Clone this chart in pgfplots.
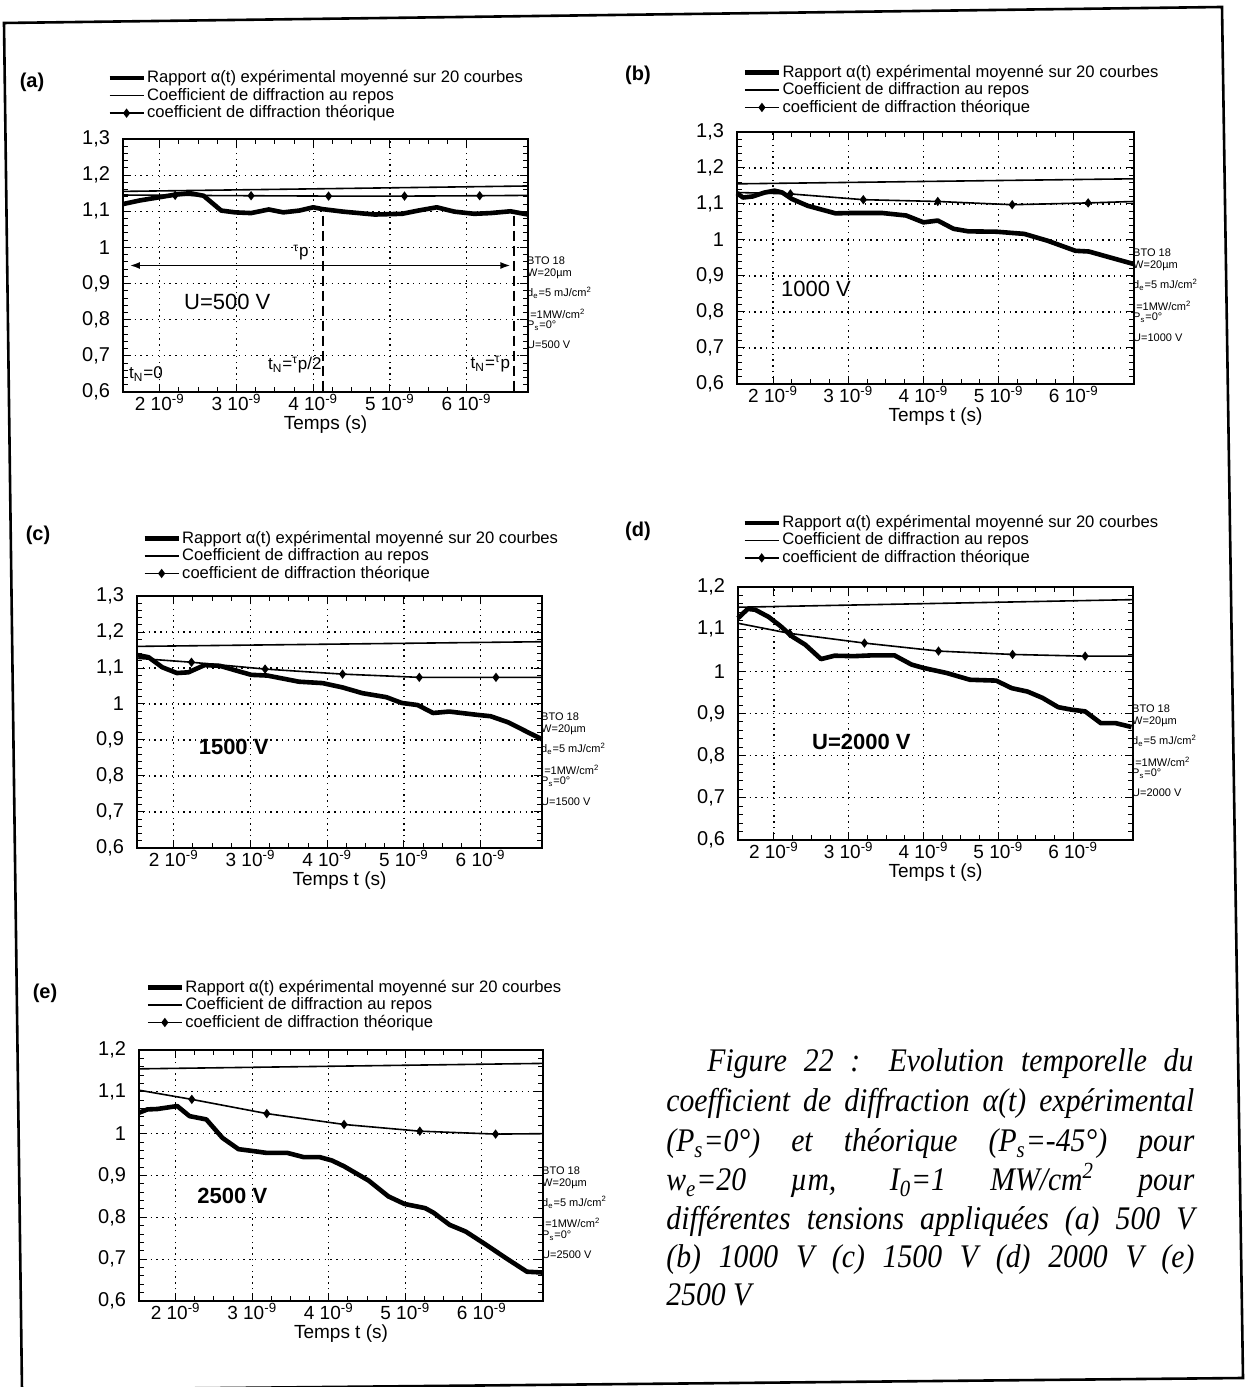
\documentclass[border=0pt]{standalone}
\usepackage{pgfplots}
\pgfplotsset{compat=1.18}
\usetikzlibrary{arrows.meta}
\usepackage{fontspec}
\setmainfont{Liberation Sans}
\newfontfamily\capfont[FakeStretch=0.9]{Liberation Serif}

\pgfplotsset{
  panel/.style={
    scale only axis, clip=false, anchor=south west,
    xmin=1.52, xmax=6.8,
    xtick={2,3,4,5,6},
    xticklabels={2 10\textsuperscript{-9},3 10\textsuperscript{-9},4 10\textsuperscript{-9},5 10\textsuperscript{-9},6 10\textsuperscript{-9}},
    minor x tick num=3, minor y tick num=4,
    grid=major,
    major grid style={black, line width=0.6pt, dash pattern=on 0.7pt off 2.2pt},
    axis line style={line width=1pt},
    tick align=inside,
    major tick length=4pt, minor tick length=2.5pt,
    every tick/.append style={black, line width=0.5pt},
    /pgf/number format/use comma,
    /pgf/number format/fixed,
    /pgf/number format/precision=1,
    /pgf/number format/assume math mode=true,
    yticklabel style={xshift=-3pt, font=\fontsize{10}{11}\selectfont},
    xticklabel style={inner sep=0.8pt, font=\fontsize{9.5}{10}\selectfont},
    xlabel style={at={(axis description cs:0.5,-0.13)}, anchor=center,
      font=\fontsize{9.5}{11}\selectfont},
    legend style={draw=none, fill=none, anchor=north west, inner sep=0pt,
      row sep=0pt, font=\fontsize{8.3}{9}\selectfont, nodes={inner sep=0.6pt}},
    legend cell align=left,
  },
  exp/.style={black, line width=2.3pt, line join=round, no marks},
  rep/.style={black, line width=0.8pt, no marks},
  theo/.style={black, line width=0.8pt, mark=diamond*, mark size=1.7pt,
    mark indices={2,3,4,5,6},
    legend image code/.code={\draw[##1, mark indices={2}] plot coordinates {(0cm,0cm) (0.3cm,0cm) (0.6cm,0cm)};}},
}
\tikzset{
  anno/.style={anchor=west, inner sep=0pt, xshift=-0.6pt, font=\fontsize{5.5}{6}\selectfont},
  big/.style={font=\fontsize{11}{12}\selectfont},
  bigb/.style={font=\bfseries\fontsize{11}{12}\selectfont},
  small/.style={font=\fontsize{8.5}{10}\selectfont},
  capnode/.style={anchor=base west, inner sep=0pt, font=\capfont\itshape\fontsize{16.5}{18}\selectfont},
  plabel/.style={font=\bfseries\fontsize{10}{12}\selectfont},
}
\newcommand{\notes}[1]{%
  \node[anno] at (axis description cs:1,0.52) {BTO 18};
  \node[anno] at (axis description cs:1,0.468) {W=20µm};
  \node[anno] at (axis description cs:1,0.393) {d\textsubscript{e}=5 mJ/cm\textsuperscript{2}};
  \node[anno] at (axis description cs:1,0.31) {I=1MW/cm\textsuperscript{2}};
  \node[anno] at (axis description cs:1,0.262) {P\textsubscript{s}=0°};
  \node[anno] at (axis description cs:1,0.185) {U=#1 V};
}
\newcommand{\entries}{%
  \addlegendentry{Rapport α(t) expérimental moyenné sur 20 courbes}
  \addlegendentry{Coefficient de diffraction au repos}
  \addlegendentry{coefficient de diffraction théorique}
}

\begin{document}
\begin{tikzpicture}[x=0.5pt,y=0.5pt]
\useasboundingbox (0,0) rectangle (1244,1387);
\draw[line width=1.3pt] (4,1364) -- (1222,1380) -- (1243,9) -- (22,-3) -- cycle;

\coordinate (A) at (123,995);
\coordinate (B) at (737,1003);
\coordinate (C) at (137,539);
\coordinate (D) at (738,547);
\coordinate (E) at (139,86);

\node[plabel] at (32,1305) {(a)};
\node[plabel] at (638,1312) {(b)};
\node[plabel] at (38,852) {(c)};
\node[plabel] at (638,856) {(d)};
\node[plabel] at (45,394) {(e)};

% (a)
\begin{axis}[panel, at={(A)}, width=202.5pt, height=126.5pt,
  ymin=0.6, ymax=1.3, ytick={0.6,0.7,0.8,0.9,1,1.1,1.2,1.3},
  xlabel={Temps (s)},
  legend style={at={(axis description cs:-0.04,1.277)}}]
\addplot[exp] coordinates {(1.52,1.12) (1.74,1.13) (2.0,1.139) (2.2,1.146) (2.39,1.15) (2.57,1.143) (2.8,1.102) (2.98,1.097) (3.19,1.095) (3.42,1.105) (3.61,1.097) (3.82,1.102) (4.0,1.111) (4.12,1.106) (4.39,1.099) (4.8,1.091) (5.16,1.093) (5.37,1.102) (5.61,1.111) (5.84,1.099) (6.1,1.093) (6.31,1.095) (6.57,1.1) (6.8,1.091)};
\addplot[rep] coordinates {(1.52,1.155) (6.8,1.17)};
\addplot[theo] coordinates {(1.52,1.145) (2.2,1.144) (3.19,1.143) (4.2,1.142) (5.19,1.142) (6.17,1.143) (6.8,1.144)};
\entries
\addplot[forget plot, black, line width=0.8pt, {Latex[length=5pt,width=3.5pt]}-{Latex[length=5pt,width=3.5pt]}] coordinates {(1.61,0.95) (6.57,0.95)};
\addplot[forget plot, black, line width=0.9pt, dash pattern=on 5pt off 2.5pt] coordinates {(4.13,1.088) (4.13,0.6)};
\addplot[forget plot, black, line width=0.9pt, dash pattern=on 5pt off 2.5pt] coordinates {(6.62,1.088) (6.62,0.6)};
\node[small] at (axis cs:3.84,0.986) {\textsuperscript{τ}p};
\node[small] at (axis cs:1.82,0.65) {t\textsubscript{N}=0};
\node[small] at (axis cs:3.76,0.674) {t\textsubscript{N}=\textsuperscript{τ}p/2};
\node[small] at (axis cs:6.31,0.677) {t\textsubscript{N}=\textsuperscript{τ}p};
\node[big] at (axis cs:2.88,0.85) {U=500 V};
\notes{500}
\end{axis}

% (b)
\begin{axis}[panel, at={(B)}, width=198.5pt, height=126pt,
  ymin=0.6, ymax=1.3, ytick={0.6,0.7,0.8,0.9,1,1.1,1.2,1.3},
  xlabel={Temps t (s)},
  legend style={at={(axis description cs:0.013,1.273)}}]
\addplot[exp] coordinates {(1.52,1.13) (1.6,1.118) (1.73,1.121) (1.89,1.132) (2.02,1.137) (2.12,1.132) (2.25,1.114) (2.46,1.095) (2.83,1.074) (3.04,1.075) (3.45,1.075) (3.77,1.068) (4.0,1.049) (4.19,1.054) (4.4,1.031) (4.6,1.024) (4.97,1.023) (5.34,1.017) (5.65,0.998) (6.02,0.97) (6.2,0.968) (6.49,0.951) (6.8,0.933)};
\addplot[rep] coordinates {(1.52,1.156) (6.8,1.17)};
\addplot[theo] coordinates {(1.52,1.132) (2.23,1.128) (3.2,1.112) (4.19,1.107) (5.18,1.098) (6.19,1.103) (6.8,1.107)};
\entries
\node[big] at (axis cs:2.57,0.864) {1000 V};
\notes{1000}
\end{axis}

% (c)
\begin{axis}[panel, at={(C)}, width=202.5pt, height=126pt,
  ymin=0.6, ymax=1.3, ytick={0.6,0.7,0.8,0.9,1,1.1,1.2,1.3},
  xlabel={Temps t (s)},
  legend style={at={(axis description cs:0.012,1.265)}}]
\addplot[exp] coordinates {(1.52,1.136) (1.67,1.13) (1.85,1.102) (2.04,1.086) (2.19,1.088) (2.4,1.108) (2.6,1.106) (2.86,1.09) (3.01,1.081) (3.22,1.079) (3.63,1.062) (3.94,1.058) (4.2,1.046) (4.46,1.03) (4.77,1.019) (4.97,1.003) (5.18,0.997) (5.38,0.975) (5.59,0.979) (5.95,0.97) (6.13,0.966) (6.36,0.949) (6.62,0.921) (6.8,0.902)};
\addplot[rep] coordinates {(1.52,1.16) (6.8,1.173)};
\addplot[theo] coordinates {(1.52,1.127) (2.23,1.116) (3.19,1.097) (4.2,1.083) (5.2,1.074) (6.2,1.074) (6.8,1.074)};
\entries
\node[bigb] at (axis cs:2.78,0.88) {1500 V};
\notes{1500}
\end{axis}

% (d)
\begin{axis}[panel, at={(D)}, width=197.5pt, height=126.5pt,
  ymin=0.6, ymax=1.2, ytick={0.6,0.7,0.8,0.9,1,1.1,1.2},
  xlabel={Temps t (s)},
  legend style={at={(axis description cs:0.01,1.29)}}]
\addplot[exp] coordinates {(1.52,1.126) (1.65,1.148) (1.75,1.146) (1.93,1.129) (2.09,1.107) (2.24,1.083) (2.42,1.063) (2.63,1.029) (2.81,1.037) (3.07,1.036) (3.33,1.038) (3.61,1.038) (3.84,1.016) (4.0,1.008) (4.31,0.996) (4.62,0.98) (4.97,0.978) (5.18,0.96) (5.39,0.952) (5.59,0.937) (5.8,0.915) (5.98,0.909) (6.16,0.905) (6.37,0.877) (6.57,0.877) (6.78,0.868)};
\addplot[rep] coordinates {(1.52,1.152) (6.8,1.17)};
\addplot[theo] coordinates {(1.52,1.114) (2.21,1.09) (3.21,1.067) (4.2,1.048) (5.19,1.04) (6.16,1.036) (6.8,1.036)};
\entries
\node[bigb] at (axis cs:3.17,0.833) {U=2000 V};
\notes{2000}
\end{axis}

% (e)
\begin{axis}[panel, at={(E)}, width=202pt, height=125.5pt,
  ymin=0.6, ymax=1.2, ytick={0.6,0.7,0.8,0.9,1,1.1,1.2},
  xlabel={Temps t (s)},
  legend style={at={(axis description cs:0.015,1.286)}}]
\addplot[exp] coordinates {(1.52,1.05) (1.63,1.058) (1.76,1.059) (2.02,1.066) (2.18,1.042) (2.4,1.034) (2.61,0.99) (2.82,0.963) (3.03,0.958) (3.19,0.954) (3.46,0.954) (3.67,0.944) (3.88,0.944) (4.04,0.936) (4.2,0.922) (4.52,0.888) (4.78,0.85) (4.99,0.832) (5.26,0.822) (5.37,0.811) (5.58,0.782) (5.79,0.766) (6.06,0.734) (6.32,0.702) (6.59,0.67) (6.8,0.668)};
\addplot[rep] coordinates {(1.52,1.155) (6.8,1.168)};
\addplot[theo] coordinates {(1.52,1.104) (2.21,1.082) (3.19,1.048) (4.2,1.022) (5.19,1.006) (6.18,0.999) (6.8,1.0)};
\entries
\node[bigb] at (axis cs:2.74,0.85) {2500 V};
\notes{2500}
\end{axis}

% caption
\node[capnode] at (707,315) {\makebox[243pt][s]{Figure 22 : Evolution temporelle du}};
\node[capnode] at (666,275) {\makebox[264pt][s]{coefficient de diffraction α(t) expérimental}};
\node[capnode] at (666,235) {\makebox[264pt][s]{(P\textsubscript{s}=0°) et théorique (P\textsubscript{s}=-45°) pour}};
\node[capnode] at (666,196) {\makebox[264pt][s]{w\textsubscript{e}=20 µm, I\textsubscript{0}=1 MW/cm\textsuperscript{2} pour}};
\node[capnode] at (666,157) {\makebox[264pt][s]{différentes tensions appliquées (a) 500 V}};
\node[capnode] at (666,119) {\makebox[264pt][s]{(b) 1000 V (c) 1500 V (d) 2000 V (e)}};
\node[capnode] at (666,81) {2500 V};
\end{tikzpicture}
\end{document}
